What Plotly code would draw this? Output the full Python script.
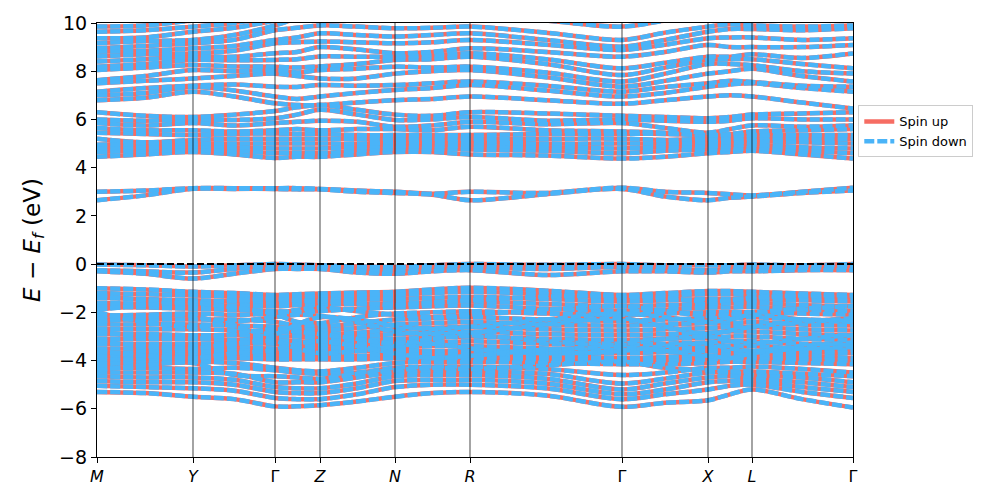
import plotly.graph_objects as go

# k-path coordinates (high-symmetry points and midpoints along the path)
k_nodes = [0, 48, 96, 137, 178, 200, 223, 260, 298, 335, 373, 449, 525, 568, 611, 633, 655, 705, 756]
hs_positions = [0, 96, 178, 223, 298, 373, 525, 611, 655, 756]
hs_labels = ["<i>M</i>", "<i>Y</i>", "Γ", "<i>Z</i>", "<i>N</i>", "<i>R</i>", "Γ", "<i>X</i>", "<i>L</i>", "Γ"]

# valence bands (eV, read at k_nodes)
val_top1 = [-0.02,-0.05,-0.1,-0.05,0.0,-0.02,-0.05,-0.1,-0.12,-0.05,0.0,-0.03,0.0,-0.05,-0.05,-0.05,-0.02,-0.05,0.0]
val_top2 = [-0.25,-0.3,-0.35,-0.2,-0.1,-0.15,-0.15,-0.25,-0.3,-0.2,-0.15,-0.2,-0.12,-0.2,-0.25,-0.2,-0.15,-0.15,-0.12]
val_top3 = [-0.3,-0.4,-0.6,-0.4,-0.2,-0.2,-0.2,-0.35,-0.4,-0.3,-0.25,-0.45,-0.3,-0.3,-0.35,-0.3,-0.3,-0.25,-0.25]
vb01 = [-1.0,-1.05,-1.15,-1.2,-1.28,-1.25,-1.22,-1.18,-1.15,-1.05,-0.98,-1.1,-1.28,-1.2,-1.12,-1.12,-1.15,-1.22,-1.28]
vb02 = [-1.2,-1.25,-1.3,-1.35,-1.4,-1.38,-1.35,-1.3,-1.28,-1.2,-1.15,-1.25,-1.4,-1.3,-1.25,-1.25,-1.28,-1.35,-1.4]
vb03 = [-1.4,-1.45,-1.5,-1.55,-1.6,-1.55,-1.5,-1.45,-1.45,-1.4,-1.35,-1.45,-1.55,-1.5,-1.45,-1.45,-1.45,-1.5,-1.55]
vb04 = [-1.6,-1.65,-1.7,-1.72,-1.75,-1.7,-1.68,-1.65,-1.62,-1.58,-1.55,-1.65,-1.75,-1.7,-1.65,-1.62,-1.6,-1.7,-1.75]
vb05 = [-1.78,-1.8,-1.85,-1.9,-1.95,-2.0,-1.95,-1.85,-1.8,-1.75,-1.72,-1.85,-1.95,-1.88,-1.8,-1.8,-1.78,-1.88,-1.95]
vb06 = [-2.15,-2.1,-2.05,-2.1,-2.1,-2.4,-2.45,-2.2,-2.05,-2.0,-1.95,-2.05,-2.1,-2.05,-2.0,-2.0,-2.0,-2.05,-2.1]
vb07 = [-2.3,-2.3,-2.3,-2.3,-2.4,-2.55,-2.6,-2.45,-2.3,-2.25,-2.2,-2.3,-2.35,-2.3,-2.25,-2.25,-2.2,-2.3,-2.35]
vb08 = [-2.5,-2.5,-2.5,-2.55,-2.6,-2.7,-2.75,-2.65,-2.5,-2.45,-2.4,-2.5,-2.55,-2.5,-2.45,-2.45,-2.4,-2.5,-2.55]
vb09 = [-2.7,-2.7,-2.7,-2.75,-2.8,-2.85,-2.9,-2.85,-2.7,-2.65,-2.6,-2.7,-2.75,-2.7,-2.65,-2.6,-2.6,-2.7,-2.75]
vb10 = [-2.9,-2.9,-2.95,-2.95,-3.0,-3.0,-3.05,-3.0,-2.9,-2.85,-2.8,-2.9,-2.95,-2.9,-2.85,-2.8,-2.8,-2.9,-2.95]
vb11 = [-3.1,-3.1,-3.1,-3.15,-3.15,-3.2,-3.2,-3.15,-3.1,-3.05,-3.0,-3.1,-3.15,-3.1,-3.05,-3.0,-3.0,-3.1,-3.15]
vb12 = [-3.3,-3.3,-3.3,-3.3,-3.3,-3.35,-3.35,-3.3,-3.25,-3.25,-3.2,-3.3,-3.35,-3.3,-3.25,-3.2,-3.2,-3.3,-3.35]
vb13 = [-3.5,-3.5,-3.45,-3.45,-3.5,-3.5,-3.5,-3.45,-3.45,-3.4,-3.4,-3.5,-3.55,-3.5,-3.45,-3.4,-3.4,-3.5,-3.55]
vb14 = [-3.7,-3.65,-3.6,-3.6,-3.65,-3.65,-3.65,-3.6,-3.6,-3.6,-3.6,-3.65,-3.7,-3.65,-3.6,-3.6,-3.6,-3.65,-3.7]
vb15 = [-3.85,-3.8,-3.75,-3.75,-3.8,-3.8,-3.8,-3.8,-3.75,-3.75,-3.75,-3.8,-3.9,-3.85,-3.8,-3.75,-3.75,-3.8,-3.9]
vb16 = [-4.0,-3.95,-3.9,-3.9,-3.95,-3.95,-3.95,-3.95,-3.9,-3.9,-3.9,-3.95,-4.0,-4.0,-3.95,-3.9,-3.9,-3.95,-4.0]
vb17 = [-4.15,-4.1,-4.05,-4.1,-4.3,-4.4,-4.45,-4.3,-4.1,-4.05,-4.05,-4.1,-4.15,-4.15,-4.1,-4.05,-4.05,-4.1,-4.15]
vb18 = [-4.3,-4.3,-4.35,-4.3,-4.4,-4.5,-4.55,-4.5,-4.3,-4.25,-4.25,-4.35,-4.6,-4.5,-4.3,-4.3,-4.25,-4.35,-4.5]
vb19 = [-4.5,-4.5,-4.5,-4.55,-4.9,-4.9,-4.9,-4.7,-4.5,-4.45,-4.45,-4.55,-4.95,-4.75,-4.5,-4.5,-4.6,-4.7,-4.9]
vb20 = [-4.65,-4.7,-4.7,-4.8,-5.1,-5.15,-5.15,-4.95,-4.65,-4.6,-4.6,-4.75,-5.2,-4.95,-4.7,-4.65,-4.75,-4.9,-5.1]
vb21 = [-4.85,-4.9,-4.9,-5.0,-5.3,-5.35,-5.35,-5.15,-4.85,-4.8,-4.8,-4.95,-5.4,-5.2,-4.9,-4.85,-4.85,-5.1,-5.3]
vb22 = [-5.05,-5.1,-5.15,-5.25,-5.55,-5.6,-5.6,-5.4,-5.1,-5.0,-5.0,-5.15,-5.6,-5.4,-5.2,-5.05,-5.0,-5.3,-5.55]
vb23 = [-5.3,-5.35,-5.5,-5.6,-5.9,-5.9,-5.85,-5.7,-5.5,-5.35,-5.3,-5.45,-5.92,-5.75,-5.65,-5.4,-5.2,-5.6,-5.95]
vx1 = [-1.3,-1.5,-1.6,-1.5,-1.45,-1.5,-1.55,-1.6,-1.7,-1.6,-1.5,-1.35,-1.3,-1.4,-1.55,-1.5,-1.4,-1.3,-1.3]
vx2 = [-2.4,-2.2,-2.15,-2.6,-2.9,-2.5,-2.2,-2.3,-2.55,-2.7,-2.6,-2.3,-2.05,-2.2,-2.4,-2.3,-2.1,-2.3,-2.4]
vx3 = [-3.2,-3.4,-3.5,-3.3,-3.2,-3.5,-3.7,-3.6,-3.4,-3.3,-3.5,-3.7,-3.6,-3.4,-3.3,-3.5,-3.6,-3.4,-3.25]
vx4 = [-3.6,-3.8,-3.9,-3.7,-3.55,-3.3,-3.2,-3.4,-3.7,-3.9,-3.8,-3.55,-3.45,-3.6,-3.8,-3.9,-3.7,-3.5,-3.45]
vx5 = [-2.0,-2.4,-2.6,-2.4,-2.2,-2.1,-2.15,-2.4,-2.8,-2.9,-2.85,-2.5,-2.25,-2.6,-2.9,-2.75,-2.6,-2.4,-2.25]
vx6 = [-4.4,-4.2,-4.1,-4.6,-4.65,-4.7,-4.75,-4.55,-4.4,-4.3,-4.35,-4.2,-4.05,-4.3,-4.4,-4.45,-4.45,-4.55,-4.65]
vx7 = [-2.8,-3.0,-3.1,-2.9,-2.7,-2.8,-2.9,-3.1,-3.3,-3.1,-2.95,-3.2,-3.3,-3.1,-3.0,-3.2,-3.3,-3.1,-2.95]
vx8 = [-1.9,-1.7,-1.6,-1.8,-2.0,-1.9,-1.8,-1.95,-2.1,-2.2,-2.1,-1.9,-1.75,-1.95,-2.15,-2.1,-2.0,-1.85,-1.75]

# conduction bands (eV)
cb01 = [3.0,3.05,3.15,3.15,3.15,3.15,3.12,3.05,3.0,2.92,3.0,2.95,3.17,3.0,2.95,2.9,2.85,3.0,3.17]
cb02 = [2.65,2.85,3.12,3.12,3.12,3.1,3.1,3.0,2.95,2.88,2.65,2.9,3.12,2.8,2.65,2.75,2.8,2.95,3.05]
cb03 = [4.45,4.55,4.65,4.55,4.4,4.45,4.45,4.55,4.65,4.65,4.55,4.5,4.38,4.45,4.6,4.65,4.7,4.55,4.38]
cb04 = [4.65,4.7,4.75,4.7,4.6,4.6,4.6,4.7,4.8,4.78,4.75,4.7,4.6,4.7,4.75,4.75,4.8,4.7,4.6]
cb05 = [4.8,4.85,4.9,4.85,4.8,4.8,4.8,4.85,4.9,4.9,4.9,4.85,4.8,4.85,4.9,4.9,4.95,4.85,4.8]
cb06 = [4.95,5.0,5.0,5.0,5.0,5.0,5.0,5.0,5.05,5.05,5.05,5.0,5.0,5.0,5.05,5.05,5.1,5.05,5.0]
cb07 = [5.2,5.05,5.15,5.2,5.2,5.2,5.2,5.2,5.2,5.2,5.2,5.2,5.2,5.15,5.2,5.2,5.25,5.2,5.2]
cb08 = [5.45,5.4,5.35,5.4,5.42,5.4,5.4,5.35,5.35,5.35,5.35,5.4,5.4,5.4,5.35,5.35,5.35,5.35,5.35]
cb09 = [5.65,5.55,5.55,5.5,5.55,5.6,5.55,5.6,5.6,5.55,5.7,5.55,5.5,5.45,5.35,5.4,5.5,5.55,5.6]
cb10 = [5.85,5.75,5.85,5.75,5.85,5.9,5.95,5.9,5.7,5.75,5.9,5.8,5.85,5.65,5.45,5.6,5.75,5.7,5.75]
cb11 = [6.0,5.95,6.0,5.98,6.05,6.2,6.4,6.2,5.98,6.0,6.1,5.95,6.0,5.95,5.9,5.95,6.05,6.0,6.0]
cb12 = [6.3,6.15,6.1,6.2,6.35,6.5,6.6,6.4,6.2,6.15,6.3,6.25,6.15,6.1,6.05,6.1,6.2,6.25,6.3]
cb13 = [6.8,6.9,7.15,6.95,6.67,6.6,6.6,6.7,6.8,6.85,6.95,6.8,6.65,6.8,6.95,7.0,6.95,6.7,6.45]
cb14 = [7.0,7.1,7.35,7.2,6.95,6.85,6.95,7.1,7.22,7.3,7.43,7.2,6.95,7.1,7.36,7.45,7.5,7.3,7.15]
cb15 = [7.15,7.3,7.4,7.45,7.36,7.35,7.43,7.4,7.43,7.5,7.57,7.4,7.15,7.35,7.5,7.6,7.55,7.4,7.36]
cb16 = [7.5,7.6,7.7,7.8,7.9,7.8,7.7,7.7,7.9,8.0,8.05,7.75,7.36,7.6,7.9,8.0,8.1,7.8,7.57]
cb17 = [7.63,7.8,8.05,8.0,8.05,7.95,8.05,8.1,8.19,8.15,8.19,7.95,7.57,7.9,8.3,8.3,8.25,8.0,7.91]
cb18 = [8.05,8.15,8.26,8.2,8.19,8.15,8.2,8.3,8.47,8.5,8.6,8.3,7.84,8.15,8.47,8.5,8.5,8.3,8.12]
cb19 = [8.19,8.3,8.47,8.45,8.47,8.5,8.61,8.6,8.6,8.65,8.75,8.5,8.12,8.35,8.6,8.6,8.7,8.55,8.74]
cb20 = [8.4,8.5,8.6,8.6,8.75,8.8,9.0,8.9,8.75,8.8,8.95,8.8,8.6,8.8,9.09,9.0,9.0,9.0,9.09]
cb21 = [8.61,8.7,8.75,8.85,9.16,9.2,9.23,9.2,9.16,9.2,9.3,9.1,8.88,9.1,9.37,9.4,9.4,9.3,9.37]
cb22 = [8.81,8.85,8.95,9.05,9.3,9.4,9.57,9.5,9.44,9.5,9.57,9.3,9.02,9.3,9.64,9.75,9.75,9.7,9.78]
cb23 = [8.95,9.05,9.16,9.3,9.7,9.8,9.9,9.85,9.78,9.8,9.85,9.6,9.3,9.6,9.85,9.95,9.9,9.85,9.9]
cb24 = [9.16,9.25,9.3,9.5,9.9,10.2,10.5,10.3,10.1,10.2,10.3,10.1,9.85,10.1,10.3,10.3,10.2,10.2,10.3]
cb25 = [9.37,9.4,9.64,9.8,10.1,10.3,10.6,10.5,10.3,10.4,10.5,10.5,10.6,10.7,10.8,10.8,10.6,10.5,10.6]
cb26 = [9.64,9.7,9.85,10.0,10.3,10.5,10.8,10.7,10.5,10.6,10.7,10.7,10.8,10.9,11.0,11.0,10.8,10.7,11.0]
cb27 = [9.85,9.9,10.1,10.2,10.5,10.7,11.0,10.9,10.7,10.8,10.9,10.9,11.0,11.1,11.2,11.2,11.0,10.9,11.0]

spin_up_bands = [val_top1, val_top2, val_top3,
                 vb01, vb02, vb03, vb04, vb05, vb06, vb07, vb08, vb09, vb10, vb11, vb12,
                 vb13, vb14, vb15, vb16, vb17, vb18, vb19, vb20, vb21, vb22, vb23,
                 vx1, vx2, vx3, vx4, vx5, vx6, vx7, vx8,
                 cb01, cb02, cb03, cb04, cb05, cb06, cb07, cb08, cb09, cb10, cb11, cb12,
                 cb13, cb14, cb15, cb16, cb17, cb18, cb19, cb20, cb21, cb22, cb23, cb24,
                 cb25, cb26, cb27]
spin_down_bands = spin_up_bands  # degenerate spin channels

y_min, y_max = -8, 10
y_ticks = [-8, -6, -4, -2, 0, 2, 4, 6, 8, 10]

RED = "#f66d63"
BLUE = "#4ab4f8"


def flatten(bands):
    xs, ys = [], []
    for b in bands:
        xs.extend(k_nodes + [None])
        ys.extend(b + [None])
    return xs, ys


fig = go.Figure()
xu, yu = flatten(spin_up_bands)
xd, yd = flatten(spin_down_bands)
fig.add_trace(go.Scatter(x=xu, y=yu, mode="lines", name="Spin up",
                         line=dict(color=RED, width=4.5, shape="spline", smoothing=0.9)))
fig.add_trace(go.Scatter(x=xd, y=yd, mode="lines", name="Spin down",
                         line=dict(color=BLUE, width=4.5, shape="spline", smoothing=0.9,
                                   dash="10px,3px")))

for p in hs_positions[1:-1]:
    fig.add_shape(type="line", xref="x", yref="y", x0=p, x1=p, y0=y_min, y1=y_max,
                  line=dict(color="rgba(0,0,0,0.4)", width=1.8), layer="above")
fig.add_shape(type="line", xref="x", yref="y", x0=hs_positions[0], x1=hs_positions[-1],
              y0=0, y1=0, line=dict(color="black", width=2, dash="7px,3px"), layer="above")

# the page body has an 8px default margin, so the figure is sized to fit the window
fig.update_layout(
    width=989, height=490,
    margin=dict(l=89, r=144, t=15, b=41),
    paper_bgcolor="white", plot_bgcolor="white",
    font=dict(family="DejaVu Sans", color="black"),
    showlegend=True,
    legend=dict(x=1.007, y=0.81, xanchor="left", yanchor="top",
                bgcolor="white", bordercolor="#cccccc", borderwidth=1,
                font=dict(size=13, family="DejaVu Sans"), itemwidth=30,
                tracegroupgap=2),
)
fig.update_xaxes(range=[hs_positions[0], hs_positions[-1]], tickmode="array",
                 tickvals=hs_positions, ticktext=hs_labels, automargin=False,
                 tickfont=dict(size=16), ticks="outside", ticklen=5, tickcolor="black",
                 showgrid=False, zeroline=False, showline=True, linecolor="black",
                 linewidth=1.2, mirror=True)
fig.update_yaxes(range=[y_min, y_max], tickmode="array", tickvals=y_ticks, automargin=False,
                 tickfont=dict(size=19), ticks="outside", ticklen=5, tickcolor="black",
                 showgrid=False, zeroline=False, showline=True, linecolor="black",
                 linewidth=1.2, mirror=True,
                 title=dict(text="<i>E</i> − <i>E</i><sub><i>f</i></sub> (eV)",
                            font=dict(size=23), standoff=12))

fig.write_html("out.html")
